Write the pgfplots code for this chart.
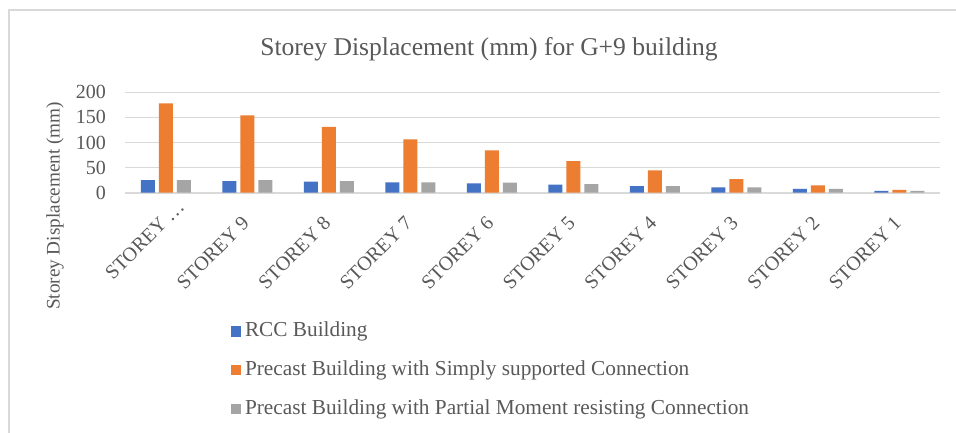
\documentclass[border=0pt]{standalone}
\usepackage{fontspec}
\setmainfont{Liberation Serif}
\usepackage{pgfplots}
\pgfplotsset{compat=1.18}
\definecolor{rccblue}{HTML}{4472C4}
\definecolor{simorange}{HTML}{ED7D31}
\definecolor{pmgray}{HTML}{A5A5A5}
\definecolor{gridcol}{HTML}{D9D9D9}
\definecolor{txt}{HTML}{595959}
\begin{document}
\begin{tikzpicture}
\useasboundingbox (0,0) rectangle (956pt,433pt);
\fill[white] (0,0) rectangle (956pt,433pt);
\draw[gridcol, line width=1.2pt] (9pt,0) -- (9pt,423pt) -- (956pt,423pt);
\node[text=txt, anchor=base, font=\fontsize{25.6}{28}\selectfont, inner sep=0pt] at (489pt,377.3pt) {Storey Displacement (mm) for G+9 building};
\begin{axis}[
  at={(125pt,240.3pt)}, anchor=south west,
  scale only axis, width=815pt, height=100.4pt,
  ymin=0, ymax=200, ytick={0,50,100,150,200},
  xmin=-0.5, xmax=9.5, xtick={0,1,2,3,4,5,6,7,8,9},
  xticklabels={{STOREY …\hspace*{-24pt}},STOREY 9,STOREY 8,STOREY 7,STOREY 6,STOREY 5,STOREY 4,STOREY 3,STOREY 2,STOREY 1},
  axis line style={draw=none},
  tick style={draw=none},
  ymajorgrids, grid style={gridcol, line width=1.1pt},
  extra y ticks={0}, extra y tick labels={},
  extra y tick style={grid style={gridcol, line width=1.8pt}},
  /pgf/number format/assume math mode=true,
  yticklabel style={font=\fontsize{20}{22}\selectfont, text=txt, anchor=east, inner sep=0pt, xshift=-19pt},
  xticklabel style={font=\fontsize{20}{22}\selectfont, text=txt, inner sep=0pt, xshift=3pt, yshift=-32pt, rotate=45, anchor=base east},
  ylabel={Storey Displacement (mm)},
  every axis y label/.style={at={(rel axis cs:-0.0859,-0.132)}, rotate=90, anchor=center, font=\fontsize{19.2}{21}\selectfont, text=txt},
  legend style={at={(rel axis cs:0.1297,-1.275)}, anchor=north west, draw=none, fill=none, inner sep=0pt, outer sep=0pt,
    row sep=14.7pt, column sep=4.3pt,
    nodes={inner sep=0pt, text height=16pt, text depth=8pt, text=txt, font=\fontsize{21.3}{23}\selectfont}},
  legend cell align=left,
  legend image code/.code={\fill[#1] (0pt,-4pt) rectangle (10pt,6.5pt);},
]
\addplot[ybar, bar width=14pt, bar shift=-18pt, fill=rccblue, draw=none] coordinates {
(0,25) (1,23) (2,22) (3,20.7) (4,18.7) (5,16) (6,13.3) (7,10.7) (8,7.4) (9,3.4)};
\addplot[ybar, bar width=14pt, bar shift=0pt, fill=simorange, draw=none] coordinates {
(0,178) (1,154) (2,131) (3,106) (4,84.5) (5,63) (6,44.6) (7,27) (8,14.7) (9,5.4)};
\addplot[ybar, bar width=14pt, bar shift=18pt, fill=pmgray, draw=none] coordinates {
(0,25) (1,25) (2,23) (3,20.7) (4,20) (5,17.3) (6,13.3) (7,10.7) (8,7.4) (9,3.4)};
\legend{RCC Building, Precast Building with Simply supported Connection, Precast Building with Partial Moment resisting Connection}
\end{axis}
\end{tikzpicture}
\end{document}
